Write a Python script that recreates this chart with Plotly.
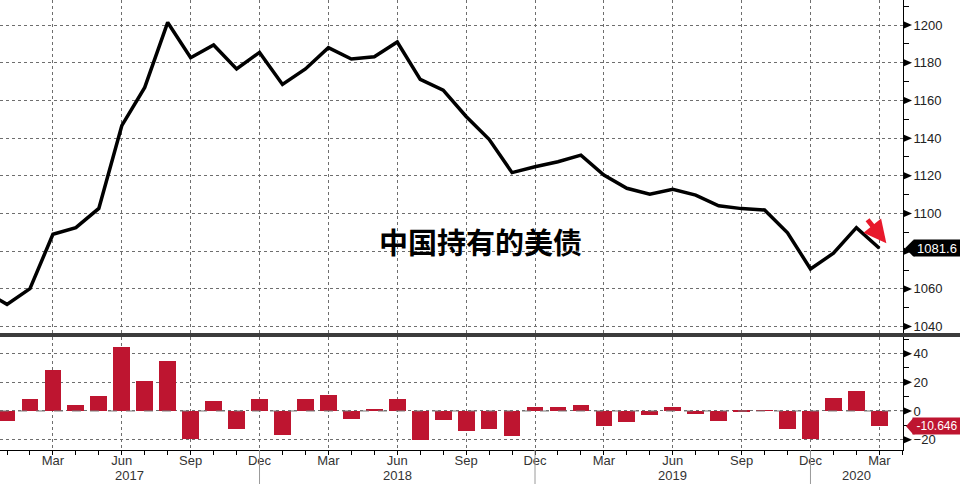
import plotly.graph_objects as go

# ---------------- data ----------------
months = ["Dec 2016",
          "Jan 2017", "Feb 2017", "Mar 2017", "Apr 2017", "May 2017", "Jun 2017",
          "Jul 2017", "Aug 2017", "Sep 2017", "Oct 2017", "Nov 2017", "Dec 2017",
          "Jan 2018", "Feb 2018", "Mar 2018", "Apr 2018", "May 2018", "Jun 2018",
          "Jul 2018", "Aug 2018", "Sep 2018", "Oct 2018", "Nov 2018", "Dec 2018",
          "Jan 2019", "Feb 2019", "Mar 2019", "Apr 2019", "May 2019", "Jun 2019",
          "Jul 2019", "Aug 2019", "Sep 2019", "Oct 2019", "Nov 2019", "Dec 2019",
          "Jan 2020", "Feb 2020", "Mar 2020"]

holdings = [1058.8,
            1051.8, 1060.1, 1089.0, 1092.5, 1102.7, 1146.6,
            1166.9, 1201.4, 1182.7, 1189.4, 1176.7, 1185.5,
            1168.5, 1176.7, 1188.0, 1182.0, 1183.2, 1191.0,
            1171.2, 1165.5, 1151.5, 1139.4, 1121.7, 1124.8,
            1127.5, 1131.0, 1120.4, 1113.4, 1110.3, 1112.8,
            1109.8, 1104.1, 1102.6, 1101.9, 1089.8, 1070.6,
            1078.9, 1092.5, 1081.6]

# monthly change (starts Jan 2017)
change = [-6.7, 8.4, 28.6, 4.2, 10.5, 44.9,
          20.9, 34.9, -19.5, 7.0, -12.6, 8.4,
          -16.7, 8.4, 11.2, -5.6, 1.4, 8.4,
          -20.2, -6.3, -13.7, -12.6, -17.4, 2.8,
          2.8, 4.2, -10.5, -7.7, -2.6, 2.8,
          -1.9, -6.7, -0.2, 0.1, -12.6, -19.5,
          9.1, 14.0, -10.646]

top_ticks = [1040, 1060, 1080, 1100, 1120, 1140, 1160, 1180, 1200]
bottom_ticks = [-20, 0, 20, 40]
title_text = "中国持有的美债"
last_label = "1081.6"
change_label = "-10.646"

# ---------------- derived ----------------
x = list(range(len(months)))
x_change = x[1:]
quarter_idx = [i for i, m in enumerate(months) if m.split()[0] in ("Mar", "Jun", "Sep", "Dec")]
quarter_txt = [months[i].split()[0] for i in quarter_idx]
year_bounds = [i for i, m in enumerate(months) if m.startswith("Dec") and i > 0]

XR = [0.695, 40.03]
BAR_RED = "#BE1530"
GRID = "#6e6e6e"
FONT = "Liberation Sans, Arial, sans-serif"

fig = go.Figure()
fig.add_trace(go.Scatter(x=x, y=holdings, mode="lines",
                         line=dict(color="black", width=3.5),
                         xaxis="x2", yaxis="y2", showlegend=False,
                         cliponaxis=True))
fig.add_trace(go.Bar(x=x_change, y=change, marker=dict(color=BAR_RED, line=dict(width=0)),
                     width=0.73, xaxis="x", yaxis="y", showlegend=False))

common_x = dict(range=XR, tickmode="array", tickvals=quarter_idx,
                showgrid=True, gridcolor=GRID, griddash="dot", gridwidth=1,
                zeroline=False)
fig.update_layout(
    width=960, height=484,
    margin=dict(l=0, r=57, t=0, b=34, pad=0),
    plot_bgcolor="white", paper_bgcolor="white",
    bargap=0,
    font=dict(family=FONT, size=13, color="#333333"),
    xaxis=dict(**common_x, domain=[0, 1], anchor="y",
               ticktext=quarter_txt, ticks="outside", ticklen=4, tickcolor="black",
               ticklabelstandoff=-6,
               minor=dict(dtick=1, tick0=0, ticks="outside", ticklen=4, tickcolor="black",
                          showgrid=False),
               showline=True, linecolor="black", linewidth=1,
               tickfont=dict(size=13, color="#333333")),
    xaxis2=dict(**common_x, anchor="y2", matches="x", showticklabels=False, ticks="",
                showline=False),
    yaxis=dict(domain=[0, 0.2511], range=[-27.2, 51.6], side="right", anchor="x",
               tickmode="array", tickvals=bottom_ticks,
               showgrid=True, gridcolor=GRID, griddash="dot", zeroline=False,
               showline=True, linecolor="black", linewidth=1,
               ticks="", ticklabelstandoff=7,
               minor=dict(dtick=10, tick0=0, ticks="outside", ticklen=5, tickcolor="black",
                          showgrid=False),
               tickfont=dict(size=13, color="#222222")),
    yaxis2=dict(domain=[0.26, 1], range=[1036.6, 1213.3], side="right", anchor="x2",
                tickmode="array", tickvals=top_ticks,
                showgrid=True, gridcolor=GRID, griddash="dot", zeroline=False,
                showline=True, linecolor="black", linewidth=1,
                ticks="", ticklabelstandoff=7,
                minor=dict(dtick=10, tick0=0, ticks="outside", ticklen=5, tickcolor="black",
                           showgrid=False),
                tickfont=dict(size=13, color="#222222")),
)

shapes = []
# dashed zero line in bottom panel
shapes.append(dict(type="line", xref="paper", yref="y", x0=0, x1=1, y0=0, y1=0,
                   line=dict(color="#777777", width=1, dash="dash")))
# triangle tick markers
for v in top_ticks:
    shapes.append(dict(type="path", xref="paper", yref="y2", xsizemode="pixel", ysizemode="pixel",
                       xanchor=1, yanchor=v, path="M1,3.5 L9,0 L1,-3.5 Z",
                       fillcolor="black", line=dict(width=0)))
for v in bottom_ticks:
    shapes.append(dict(type="path", xref="paper", yref="y", xsizemode="pixel", ysizemode="pixel",
                       xanchor=1, yanchor=v, path="M1,3.5 L9,0 L1,-3.5 Z",
                       fillcolor="black", line=dict(width=0)))
# separator band between panels
shapes.append(dict(type="rect", xref="paper", yref="paper", x0=0, x1=960 / 903,
                   y0=0.2511, y1=0.2600, fillcolor="#3c3c3c", line=dict(width=0)))
# year separators below axis
for b in year_bounds:
    shapes.append(dict(type="line", xref="x", yref="paper", x0=b, x1=b, y0=0, y1=-34 / 450,
                       line=dict(color="#9a9a9a", width=1)))
# pointers of the last-value label boxes
shapes.append(dict(type="path", xref="paper", yref="y2", xsizemode="pixel", ysizemode="pixel",
                   xanchor=1, yanchor=holdings[-1],
                   path="M2,0 L10,8 L12,8 L12,-8 L10,-8 Z", fillcolor="black", line=dict(width=0)))
shapes.append(dict(type="path", xref="paper", yref="y", xsizemode="pixel", ysizemode="pixel",
                   xanchor=1, yanchor=change[-1],
                   path="M3,0 L10,8 L12,8 L12,-8 L10,-8 Z", fillcolor=BAR_RED, line=dict(width=0)))
fig.update_layout(shapes=shapes)

ann = []
# year labels, centred on visible part of each year
years = sorted(set(m.split()[1] for m in months[1:]))
edges = [XR[0]] + year_bounds + [XR[1]]
for k, yr in enumerate(years):
    ann.append(dict(text=yr, xref="x", yref="paper", x=(edges[k] + edges[k + 1]) / 2,
                    y=-26 / 450, showarrow=False, yanchor="middle",
                    font=dict(size=13, color="#333333")))
ann.append(dict(text=last_label, xref="paper", yref="y2", x=1, xshift=10, xanchor="left",
                y=holdings[-1], showarrow=False, bgcolor="black", borderpad=1, width=44,
                height=14, align="center", font=dict(size=13, color="white")))
ann.append(dict(text=change_label, xref="paper", yref="y", x=1, xshift=9, xanchor="left",
                y=change[-1], showarrow=False, bgcolor=BAR_RED, borderpad=1, width=46,
                height=14, align="center", font=dict(size=12, color="white")))
ann.append(dict(text="<b>" + title_text + "</b>", xref="paper", yref="paper",
                x=480 / 903, y=(450 - 241) / 450, showarrow=False,
                font=dict(family="Noto Sans CJK SC", size=29, color="black")))
# red arrow pointing at the last point
ann.append(dict(text="", xref="x2", yref="y2", x=x[-1], y=holdings[-1], xshift=7, yshift=5,
                showarrow=True, ax=-20, ay=-25, arrowhead=2, arrowsize=0.9, arrowwidth=5,
                arrowcolor="#E8192C"))
fig.update_layout(annotations=ann)

fig.write_html("out.html", config={"displayModeBar": False},
               post_script="document.body.style.margin='0';document.body.style.overflow='hidden';")
